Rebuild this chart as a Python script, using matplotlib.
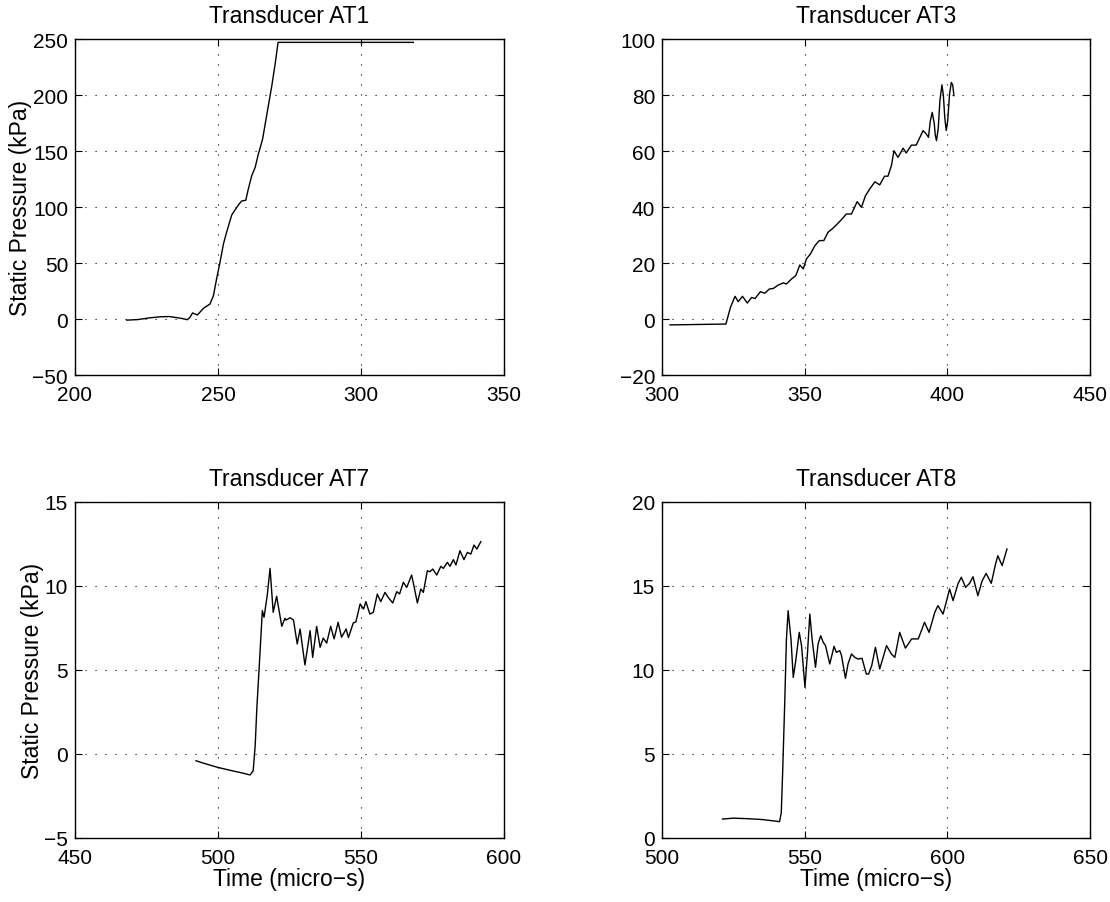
import matplotlib
matplotlib.use("Agg")
import matplotlib.pyplot as plt

plt.rcParams['font.family'] = ['Liberation Sans', 'DejaVu Sans']
plt.rcParams['axes.unicode_minus'] = True

# ---- Transducer AT1 ----
at1_t = [218.1, 222, 226, 230, 233, 236.7, 239.3, 240.2, 241.1, 242.8, 244.9, 247.2,
         248.4, 249.5, 250.7, 251.9, 253.0, 254.8, 256.0, 257.4, 258.3, 259.7, 260.6,
         261.8, 263.0, 264.1, 264.7, 265.6, 267.3, 268.8, 270.0, 271.0, 318.3]
at1_p = [-1.0, -0.5, 1.0, 2.0, 2.2, 0.8, -0.6, 1.5, 5.4, 3.6, 9.5, 13.4,
         20.8, 35.7, 50.6, 67.0, 77.4, 92.9, 97.6, 102.7, 105.4, 106.0, 116.0,
         128.0, 135.4, 147.3, 152.4, 160.7, 186.0, 208.0, 228.0, 247.0, 247.0]

# ---- Transducer AT3 ----
at3_t = [302.8, 310, 316, 322.4, 324.0, 325.6, 326.7, 328.2, 329.9, 331.4, 332.6,
         334.5, 336.0, 337.6, 339.0, 340.7, 342.5, 343.6, 345.4, 346.9, 348.3,
         349.5, 350.6, 352.0, 353.6, 355.1, 356.7, 358.2, 359.9, 361.4, 362.9,
         364.6, 366.4, 368.4, 369.9, 371.3, 372.8, 374.6, 376.3, 378.0, 379.2,
         380.4, 381.3, 382.7, 384.5, 385.6, 387.4, 389.1, 391.5, 392.6, 393.4,
         394.0, 394.7, 395.4, 395.8, 396.2, 396.8, 397.4, 398.1, 398.6, 399.1,
         399.6, 400.1, 400.8, 401.4, 401.9, 402.3]
at3_p = [-2.1, -2.0, -1.9, -1.8, 4.2, 8.1, 6.2, 8.1, 5.7, 7.7, 7.3,
         9.75, 9.2, 10.7, 10.9, 12.1, 12.9, 12.5, 14.3, 15.5, 19.3,
         17.9, 21.4, 23.2, 26.2, 28.0, 28.0, 31.0, 32.4, 33.9, 35.5,
         37.5, 37.5, 41.9, 39.9, 44.0, 46.4, 49.0, 47.9, 51.0, 51.0,
         54.8, 60.1, 57.7, 61.0, 59.3, 62.1, 62.1, 67.3, 66.1, 64.9,
         70.5, 73.8, 70.0, 65.5, 63.7, 68.0, 78.0, 83.6, 80.0, 72.0,
         67.3, 70.5, 80.5, 84.5, 83.5, 79.8]

# ---- Transducer AT7 ----
at7_t = [492.3, 495, 500, 505, 509, 511.2, 512.3, 513.0, 513.6, 514.4, 515.5, 516.1,
         517.2, 518.2, 519.3, 520.5, 522.3, 523.4, 523.8, 525.2, 526.4, 527.7,
         528.7, 530.4, 532.2, 533.1, 534.5, 535.7, 536.8, 538.0, 539.4, 540.6,
         542.0, 543.2, 544.8, 545.6, 547.3, 548.2, 549.7, 550.9, 551.7, 553.1,
         554.3, 555.7, 556.9, 558.4, 559.5, 561.1, 562.5, 563.5, 564.8, 566.0,
         567.7, 568.5, 569.7, 570.9, 571.8, 573.2, 574.1, 575.1, 576.5, 577.9,
         578.8, 580.2, 581.1, 582.3, 583.2, 584.6, 586.0, 587.2, 588.4, 589.5,
         590.5, 591.9]
at7_p = [-0.4, -0.55, -0.8, -1.0, -1.15, -1.25, -1.0, 0.5, 2.8, 5.16, 8.53, 8.14,
         9.42, 11.05, 8.43, 9.39, 7.6, 8.08, 7.97, 8.11, 7.97, 6.55,
         7.44, 5.3, 7.34, 5.75, 7.6, 6.35, 6.9, 6.6, 7.6, 6.85,
         7.84, 6.95, 7.44, 6.93, 7.8, 7.86, 8.93, 8.63, 9.07, 8.33,
         8.43, 9.52, 9.07, 9.62, 9.32, 8.99, 9.66, 9.53, 10.22, 9.92,
         10.65, 10.02, 8.99, 9.82, 9.62, 10.91, 10.85, 11.01, 10.65, 11.17,
         11.05, 11.41, 11.17, 11.57, 11.25, 12.1, 11.57, 12.0, 11.9, 12.44,
         12.2, 12.64]

# ---- Transducer AT8 ----
at8_t = [521.2, 525, 530, 535, 540, 541.2, 541.8, 542.3, 543.05, 543.6, 544.2, 545.2,
         546.0, 546.8, 548.1, 548.9, 550.1, 551.0, 551.8, 552.6, 553.8, 554.7,
         555.6, 556.5, 557.3, 558.8, 560.3, 561.1, 562.3, 562.9, 564.3, 565.2,
         566.4, 567.6, 568.7, 570.1, 571.6, 572.4, 573.5, 574.8, 576.3, 578.7,
         580.4, 581.6, 583.3, 585.3, 587.5, 589.8, 590.9, 592.0, 593.6, 595.6,
         596.7, 598.5, 599.4, 600.8, 602.0, 603.7, 604.9, 606.4, 607.8, 609.0,
         610.7, 612.2, 613.6, 615.4, 616.9, 617.7, 619.2, 620.9]
at8_p = [1.13, 1.18, 1.15, 1.10, 1.0, 0.97, 1.5, 4.0, 8.27, 11.8, 13.53, 11.85,
         9.56, 10.46, 12.24, 11.45, 8.97, 11.05, 13.33, 11.85, 10.16, 11.55,
         12.04, 11.65, 11.45, 10.36, 11.41, 11.05, 11.15, 10.87, 9.5, 10.36,
         10.95, 10.75, 10.65, 10.7, 9.76, 9.76, 10.26, 11.35, 10.06, 11.45,
         10.95, 10.75, 12.24, 11.3, 11.85, 11.85, 12.34, 12.84, 12.24, 13.43,
         13.83, 13.33, 13.9, 14.82, 14.13, 15.12, 15.52, 14.92, 15.16, 15.55,
         14.42, 15.31, 15.75, 15.16, 16.31, 16.8, 16.21, 17.2]

titles = ["Transducer AT1", "Transducer AT3", "Transducer AT7", "Transducer AT8"]
xlims = [(200, 350), (300, 450), (450, 600), (500, 650)]
ylims = [(-50, 250), (-20, 100), (-5, 15), (0, 20)]
xticks = [[200, 250, 300, 350], [300, 350, 400, 450], [450, 500, 550, 600], [500, 550, 600, 650]]
yticks = [[-50, 0, 50, 100, 150, 200, 250], [-20, 0, 20, 40, 60, 80, 100],
          [-5, 0, 5, 10, 15], [0, 5, 10, 15, 20]]
series = [(at1_t, at1_p), (at3_t, at3_p), (at7_t, at7_p), (at8_t, at8_p)]

W, H = 1110, 903
fig = plt.figure(figsize=(W / 100, H / 100), dpi=100)
boxes = [(75, 40, 504, 376), (662, 40, 1090, 376),
         (75, 503, 504, 839), (662, 503, 1090, 839)]
FS = 15
LFS = 16.5

for i, (l, t, r, b) in enumerate(boxes):
    ax = fig.add_axes([l / W, 1 - b / H, (r - l) / W, (b - t) / H])
    x, y = series[i]
    ax.plot(x, y, color='black', lw=1.0)
    ax.set_xlim(*xlims[i])
    ax.set_ylim(*ylims[i])
    ax.set_xticks(xticks[i])
    ax.set_yticks(yticks[i])
    ax.grid(True, color='black', linestyle=(0, (1, 8)), linewidth=0.8)
    ax.tick_params(direction='in', top=True, right=True, length=5, width=0.8,
                   labelsize=FS)
    ax.tick_params(axis='x', pad=7)
    ax.tick_params(axis='y', pad=5)
    for s in ax.spines.values():
        s.set_linewidth(1.0)
    ax.set_title(titles[i], fontsize=LFS, pad=12)
    if i % 2 == 0:
        ax.set_ylabel("Static Pressure (kPa)", fontsize=LFS, labelpad=0)
    if i >= 2:
        ax.set_xlabel("Time (micro\u2212s)", fontsize=LFS, labelpad=0)

fig.savefig("out.png", dpi=100)
